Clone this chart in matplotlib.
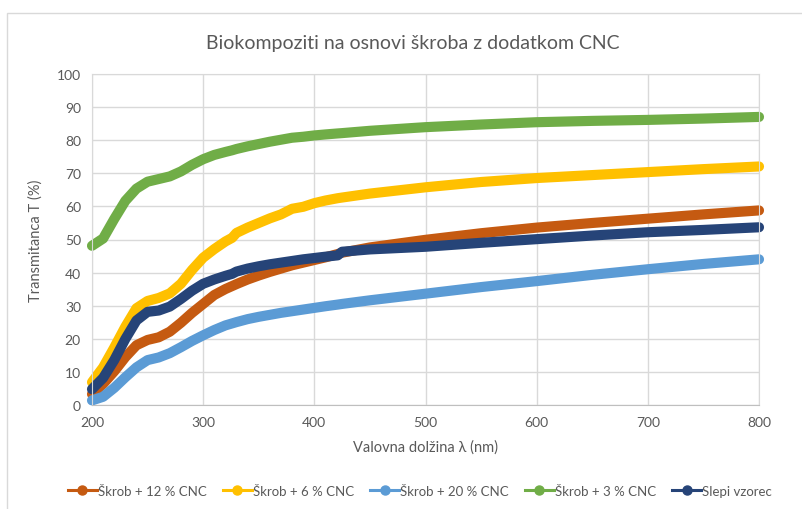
import matplotlib
matplotlib.use('Agg')
import matplotlib.pyplot as plt
from matplotlib.lines import Line2D
from matplotlib.patches import Rectangle

plt.rcParams['font.family'] = ['Lato', 'DejaVu Sans']

# valovna dolžina (nm)
wl = [200, 210, 220, 230, 240, 250, 260, 270, 280, 290, 300, 310, 320, 326, 330, 340,
      350, 360, 370, 380, 390, 400, 410, 421, 425, 450, 500, 550, 600, 650, 700, 750, 800]

# transmitanca T (%)
skrob_12 = [3.2, 6.3, 10.1, 14.4, 18.0, 19.6, 20.4, 22.1, 24.8, 27.8, 30.5, 33.2, 35.0, 35.9, 36.5, 37.9,
            39.1, 40.2, 41.2, 42.2, 43.0, 43.8, 44.6, 45.6, 46.0, 47.6, 49.9, 51.9, 53.6, 55.0, 56.3, 57.6, 58.8]
skrob_6 = [6.8, 11.3, 17.3, 23.6, 29.2, 31.4, 32.3, 33.7, 36.6, 40.8, 44.5, 47.1, 49.4, 50.5, 52.0, 53.6,
           55.0, 56.4, 57.6, 59.3, 59.9, 61.0, 61.8, 62.5, 62.7, 63.9, 65.8, 67.4, 68.6, 69.5, 70.4, 71.3, 72.1]
skrob_20 = [1.3, 2.4, 5.1, 8.3, 11.3, 13.5, 14.3, 15.6, 17.4, 19.3, 21.0, 22.6, 24.0, 24.6, 25.0, 25.9,
            26.6, 27.2, 27.8, 28.3, 28.8, 29.3, 29.8, 30.3, 30.5, 31.6, 33.6, 35.6, 37.4, 39.3, 41.0, 42.6, 44.0]
skrob_3 = [48.1, 50.3, 56.2, 61.7, 65.4, 67.5, 68.3, 69.1, 70.6, 72.6, 74.3, 75.6, 76.5, 77.0, 77.4, 78.2,
           78.9, 79.6, 80.2, 80.8, 81.1, 81.5, 81.8, 82.1, 82.2, 82.9, 84.0, 84.8, 85.5, 85.9, 86.2, 86.6, 87.1]
slepi = [4.7, 8.1, 13.5, 19.9, 25.5, 28.1, 28.5, 29.7, 32.0, 34.5, 36.6, 37.9, 39.0, 39.6, 40.3, 41.2,
         41.9, 42.5, 43.0, 43.5, 44.0, 44.4, 44.8, 45.2, 46.3, 47.0, 47.8, 49.0, 50.1, 51.2, 52.2, 52.9, 53.7]

series = [skrob_12, skrob_6, skrob_20, skrob_3, slepi]
labels = ['Škrob + 12 % CNC', 'Škrob + 6 % CNC', 'Škrob + 20 % CNC', 'Škrob + 3 % CNC', 'Slepi vzorec']
colors = ['#C55A11', '#FFC000', '#5B9BD5', '#70AD47', '#264478']

txt = '#595959'
grid_c = '#D9D9D9'

fig = plt.figure(figsize=(8.02, 5.10), dpi=100)
ax = fig.add_axes([92 / 802, 1 - 405.7 / 510, 667 / 802, 330.4 / 510])

# okvir grafikona
fig.patches.append(Rectangle((7 / 802, -0.1), 1.2, 1.1 - 14 / 510, transform=fig.transFigure,
                             fill=False, edgecolor=grid_c, lw=1))

for y, c in zip(series, colors):
    ax.plot(wl, y, color=c, lw=7.3, solid_capstyle='round', solid_joinstyle='round', clip_on=False)

ax.set_xlim(200, 800)
ax.set_ylim(0, 100)
ax.set_xticks(range(200, 801, 100))
ax.set_yticks(range(0, 101, 10))
ax.grid(True, color=grid_c, lw=1)
ax.set_axisbelow(True)
for s in ax.spines.values():
    s.set_color(grid_c)
ax.spines['bottom'].set_color('#BFBFBF')
ax.tick_params(length=0, colors=txt, labelsize=10, pad=8)

ax.set_xlabel('Valovna dolžina λ (nm)', color=txt, fontsize=10.5, labelpad=8)
ax.set_ylabel('Transmitanca T (%)', color=txt, fontsize=10.5, labelpad=10)
fig.text(413 / 802, 1 - 44 / 510, 'Biokompoziti na osnovi škroba z dodatkom CNC',
         ha='center', va='center', color=txt, fontsize=14)

handles = [Line2D([0], [0], color=c, lw=2.2, marker='o', markersize=6.5) for c in colors]
fig.legend(handles, labels, loc='center', bbox_to_anchor=(420 / 802, 1 - 492 / 510), ncol=5,
           frameon=False, fontsize=9.5, labelcolor=txt, handlelength=2.2, handletextpad=0.1,
           columnspacing=1.2)

fig.savefig('out.png', dpi=100)
